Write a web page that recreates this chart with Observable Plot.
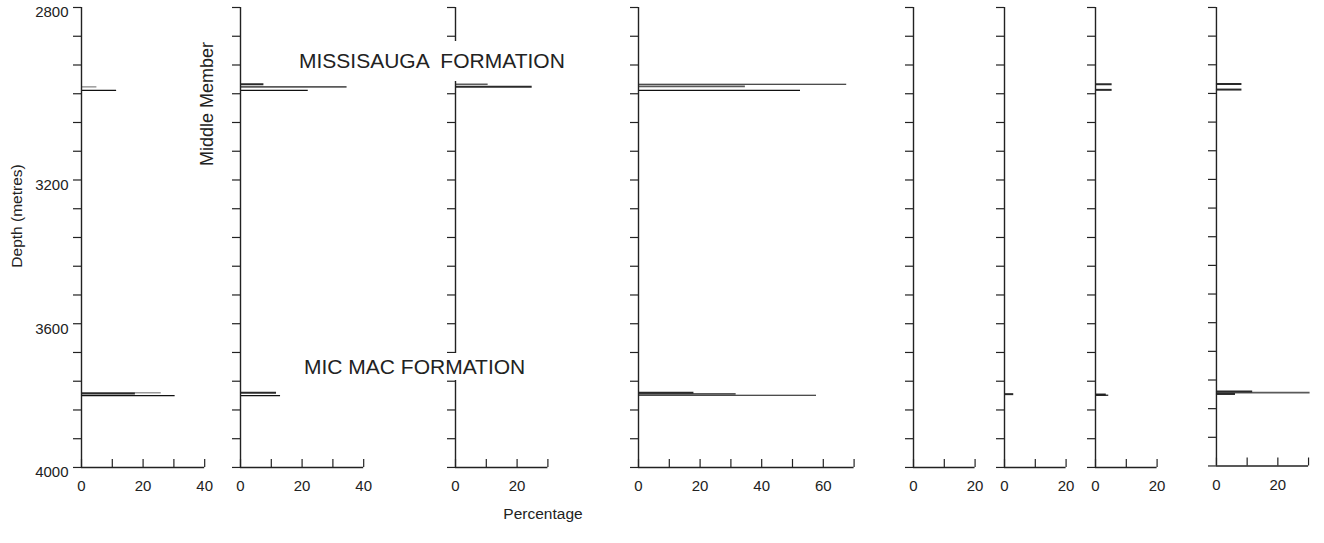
<!DOCTYPE html>
<html>
<head>
<meta charset="utf-8">
<script src="https://cdn.jsdelivr.net/npm/d3@7"></script>
<script src="https://cdn.jsdelivr.net/npm/@observablehq/plot@0.6"></script>
<style>
  body { margin: 0; background: #fff; }
  #chart { position: relative; width: 1324px; height: 543px; overflow: hidden;
           font-family: "Liberation Sans", Arial, Helvetica, sans-serif; color: #222; }
  .panel { position: absolute; top: 0; }
  .lbl { position: absolute; white-space: pre; line-height: 1; color: #222; }
  .rot { transform: translate(-50%, -50%) rotate(-90deg); }
  .boxed { background: #fff; }
</style>
</head>
<body>
<div id="chart"></div>
<script>
// ---------- data ----------
const depthLabels = [2800, 3200, 3600, 4000];
const depthLabelTickIndex = [0, 6, 11, 16];   // which of the 17 evenly spaced ticks carries each label
const panelXMax = [40, 40, 30, 70, 20, 20, 20, 30];
const panelXLabels = [[0, 20, 40], [0, 20, 40], [0, 20], [0, 20, 40, 60], [0, 20], [0, 20], [0, 20], [0, 20]];

const barPanel  = [1, 1, 1, 1, 1,
                   2, 2, 2, 2, 2,
                   3, 3,
                   4, 4, 4, 4, 4, 4,
                   6,
                   7, 7, 7, 7,
                   8, 8, 8, 8, 8];
const barDepth  = [2984, 2992, 3792, 3794, 3800,
                   2978, 2984, 2992, 3792, 3800,
                   2978, 2984,
                   2978, 2983, 2992, 3792, 3795, 3799,
                   3796,
                   2978, 2991, 3797, 3799,
                   2978, 2991, 3792, 3795, 3799];
const barValue  = [5, 11.4, 25.9, 17.5, 30.4,
                   7.6, 34.6, 22, 11.7, 13,
                   10.6, 24.9,
                   67.6, 34.7, 52.6, 18, 31.7, 57.8,
                   3,
                   5.4, 5.4, 3.5, 4.3,
                   8.3, 8.3, 11.8, 30.5, 6.2];
const barSeries = ["S1", "S4", "S1", "S3", "S4",
                   "S3", "S2", "S4", "S3", "S4",
                   "S2", "S3",
                   "S4", "S2", "S4", "S3", "S2", "S4",
                   "S3",
                   "S3", "S3", "S3", "S4",
                   "S3", "S3", "S3", "S2", "S3"];

// ---------- layout / style ----------
const FONT = '"Liberation Sans", Arial, Helvetica, sans-serif';
const seriesStyle = {
  S1: {stroke: "#9a9a9a", strokeWidth: 1.5},
  S2: {stroke: "#5a5a5a", strokeWidth: 1.7},
  S3: {stroke: "#2a2a2a", strokeWidth: 2},
  S4: {stroke: "#111111", strokeWidth: 1.2}
};
const panelLeft = [81, 240, 455, 638, 913, 1004, 1095, 1216];
const pxPerUnit = 3.08;
const plotTop = 7, plotBottom = 467;
const nTicks = 16;

// depth (m) -> position along the 17 evenly spaced depth ticks (piecewise, as the axis is labelled)
const depthToTick = d3.scaleLinear(depthLabels, depthLabelTickIndex);
const tickLabel = t => {
  const k = depthLabelTickIndex.indexOf(t);
  return k >= 0 ? String(depthLabels[k]) : "";
};

const bars = barPanel.map((p, i) => ({panel: p, depth: barDepth[i], value: barValue[i], series: barSeries[i]}));
const chart = document.getElementById("chart");

panelXMax.forEach((max, i) => {
  const ml = i === 0 ? 62 : 14, mr = 16;
  const width = ml + max * pxPerUnit + mr;
  const rows = bars.filter(d => d.panel === i + 1);
  const seriesMarks = ["S1", "S2", "S3", "S4"].map(s =>
    Plot.ruleY(rows.filter(d => d.series === s), {
      y: d => depthToTick(d.depth), x1: 0, x2: "value", ...seriesStyle[s]
    })
  );
  const labels = panelXLabels[i];
  const marks = [
    Plot.axisY({
      ticks: d3.range(0, nTicks + 1), tickSize: 8, label: null, strokeWidth: 1.2,
      tickFormat: () => ""
    }),
    Plot.axisX({
      ticks: d3.range(0, max + 0.1, 10), tickSize: 8, dy: -8, tickPadding: 13, label: null, strokeWidth: 1.2, fontSize: 15,
      tickFormat: d => labels.includes(d) ? String(d) : ""
    }),
    ...seriesMarks,
    Plot.ruleX([0], {y1: 0, y2: nTicks, stroke: "#222", strokeWidth: 1.4}),
    Plot.ruleY([nTicks], {x1: 0, x2: max, stroke: "#222", strokeWidth: 1.4})
  ];
  if (i === 0) {
    marks.push(Plot.axisY({
      ticks: depthLabelTickIndex, tickSize: 0, tickPadding: 13, dy: 5, label: null, fontSize: 15,
      tickFormat: tickLabel
    }));
  }
  const svg = Plot.plot({
    width, height: 500,
    marginTop: plotTop, marginBottom: 500 - plotBottom, marginLeft: ml, marginRight: mr,
    style: {background: "transparent", overflow: "visible", fontFamily: FONT, fontSize: "15px", color: "#222"},
    x: {domain: [0, max]},
    y: {domain: [0, nTicks], reverse: true},
    marks
  });
  const wrap = document.createElement("div");
  wrap.className = "panel";
  wrap.style.left = (panelLeft[i] - ml) + "px";
  wrap.appendChild(svg);
  chart.appendChild(wrap);
});

function addLabel(text, css, cls) {
  const d = document.createElement("div");
  d.className = "lbl " + (cls || "");
  d.textContent = text;
  Object.assign(d.style, css);
  chart.appendChild(d);
  return d;
}
addLabel("Depth (metres)", {left: "17px", top: "216px", fontSize: "15.5px"}, "rot");
addLabel("Middle Member", {left: "207px", top: "104px", fontSize: "18px"}, "rot");
addLabel("MISSISAUGA FORMATION", {left: "299px", top: "41px", fontSize: "21px", lineHeight: "40px", wordSpacing: "6px"}, "boxed");
addLabel("MIC MAC FORMATION", {left: "304px", top: "353px", fontSize: "21px", lineHeight: "27px"}, "boxed");
addLabel("Percentage", {left: "543px", top: "514px", fontSize: "15.5px", transform: "translate(-50%, -50%)"});
</script>
</body>
</html>
